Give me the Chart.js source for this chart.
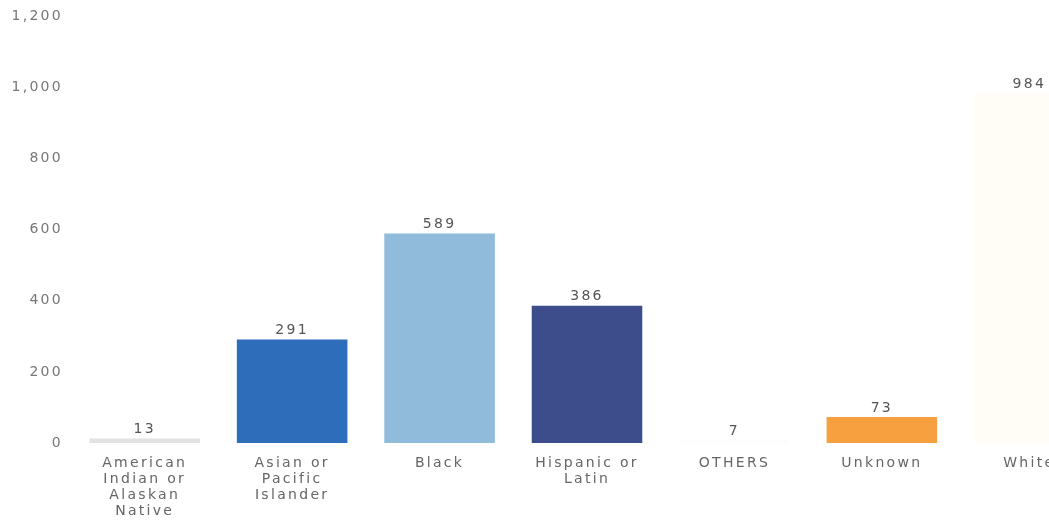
<!DOCTYPE html>
<html>
<head>
<meta charset="utf-8">
<script src="https://cdn.jsdelivr.net/npm/chart.js@4/dist/chart.umd.min.js"></script>
<style>
  html, body { margin: 0; padding: 0; background: #fff; overflow: hidden; }
  #wrap { position: relative; width: 1103px; height: 530px; }
</style>
</head>
<body>
<div id="wrap"><canvas id="raceChart"></canvas></div>
<script>
  const categories = [
    ['American', 'Indian or', 'Alaskan', 'Native'],
    ['Asian or', 'Pacific', 'Islander'],
    'Black',
    ['Hispanic or', 'Latin'],
    'OTHERS',
    'Unknown',
    'White'
  ];
  const counts = [13, 291, 589, 386, 7, 73, 984];
  const barColors = ['#e2e2e2', '#2e6db9', '#90bbdb', '#3d4d8c', '#fcfcfc', '#f7a03f', '#fffdf6'];
  const yTicks = [0, 200, 400, 600, 800, 1000, 1200];

  const FONT = '"DejaVu Sans", Verdana, sans-serif';
  const SPACING = '2.3px';

  // wider tracking on every bit of text the chart draws
  const tracking = {
    id: 'tracking',
    beforeInit: (chart) => { chart.ctx.letterSpacing = SPACING; },
    beforeDraw: (chart) => { chart.ctx.letterSpacing = SPACING; }
  };

  // count printed just above each bar
  const valueLabels = {
    id: 'valueLabels',
    afterDatasetsDraw: (chart) => {
      const ctx = chart.ctx;
      const meta = chart.getDatasetMeta(0);
      ctx.save();
      ctx.letterSpacing = SPACING;
      ctx.font = '14px ' + FONT;
      ctx.fillStyle = '#555';
      ctx.textAlign = 'center';
      ctx.textBaseline = 'bottom';
      meta.data.forEach((bar, i) => {
        ctx.fillText(String(counts[i]), bar.x, bar.y - 2);
      });
      ctx.restore();
    }
  };

  new Chart(document.getElementById('raceChart'), {
    type: 'bar',
    data: {
      labels: categories,
      datasets: [{
        data: counts,
        backgroundColor: barColors,
        borderWidth: 0,
        categoryPercentage: 1,
        barPercentage: 0.75
      }]
    },
    options: {
      responsive: true,
      maintainAspectRatio: false,
      animation: false,
      layout: { padding: { top: 15, left: 0, right: 0, bottom: 0 } },
      plugins: { legend: { display: false }, tooltip: { enabled: false } },
      scales: {
        y: {
          min: 0,
          max: 1200,
          afterBuildTicks: (scale) => { scale.ticks = yTicks.map(v => ({ value: v })); },
          afterFit: (scale) => { scale.width = 71; },
          grid: { display: false, drawTicks: false },
          border: { display: false },
          ticks: {
            padding: 8,
            color: '#777',
            font: { family: FONT, size: 14 },
            callback: (v) => Number(v).toLocaleString('en-US')
          }
        },
        x: {
          afterFit: (scale) => { scale.height = 87; },
          grid: { display: false, drawTicks: false },
          border: { display: false },
          ticks: {
            padding: 12,
            autoSkip: false,
            maxRotation: 0,
            color: '#666',
            font: { family: FONT, size: 14, lineHeight: 1.15 }
          }
        }
      }
    },
    plugins: [tracking, valueLabels]
  });
</script>
</body>
</html>
